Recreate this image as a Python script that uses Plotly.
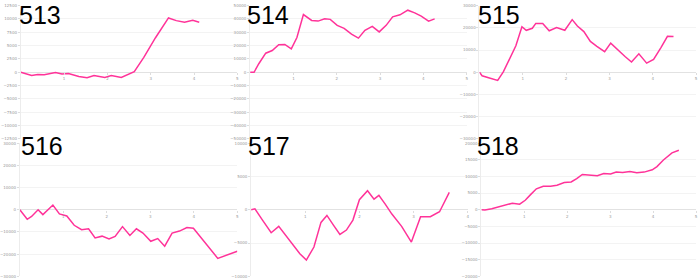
import plotly.graph_objects as go

titles = ["513", "514", "515", "516", "517", "518"]

x513 = [0, 0.25, 0.39, 0.54, 0.80, 0.95, 1.10, 1.34, 1.53, 1.69, 1.94, 2.09, 2.32, 2.62, 2.84, 3.11, 3.41, 3.59, 3.78, 3.97, 4.12]
y513 = [0, -620, -430, -490, -60, -310, -250, -800, -1050, -620, -990, -620, -990, 120, 2780, 6480, 10190, 9690, 9380, 9750, 9380]

x514 = [0, 0.09, 0.20, 0.36, 0.51, 0.66, 0.80, 0.95, 1.08, 1.23, 1.42, 1.57, 1.72, 1.85, 2.01, 2.17, 2.34, 2.50, 2.65, 2.82, 2.98, 3.14, 3.29, 3.46, 3.64, 3.80, 3.95, 4.12, 4.26]
y514 = [0, 0, 6400, 14300, 16300, 20700, 20900, 17500, 26100, 43300, 38900, 38400, 40100, 39700, 35200, 33000, 28600, 25600, 31500, 34500, 30300, 35200, 41600, 43100, 46600, 44600, 42100, 38400, 40100]

x515 = [0, 0.06, 0.21, 0.42, 0.55, 0.69, 0.84, 0.98, 1.08, 1.22, 1.30, 1.46, 1.61, 1.78, 1.97, 2.14, 2.26, 2.41, 2.56, 2.71, 2.89, 3.03, 3.19, 3.36, 3.51, 3.68, 3.86, 4.02, 4.19, 4.34, 4.48]
y515 = [0, -1600, -2500, -3700, 150, 5750, 11900, 20500, 18900, 19800, 22000, 22000, 18700, 20100, 18900, 23700, 20800, 18300, 13900, 11700, 9300, 13100, 10000, 7100, 4600, 8300, 4100, 5800, 11100, 16200, 16100]

x516 = [0, 0.17, 0.27, 0.42, 0.53, 0.76, 0.91, 1.08, 1.25, 1.42, 1.58, 1.73, 1.89, 2.05, 2.19, 2.36, 2.53, 2.68, 2.83, 3.01, 3.17, 3.33, 3.50, 3.67, 3.84, 3.99, 4.55, 4.75, 5.0]
y516 = [0, -4300, -3000, 0, -2200, 2100, -1900, -2800, -7000, -9000, -8600, -12700, -11900, -13200, -12000, -7600, -11600, -8600, -10500, -14200, -13000, -16400, -10500, -9600, -8000, -8300, -21900, -20400, -18700]

x517 = [0, 0.07, 0.21, 0.37, 0.51, 0.72, 0.90, 1.02, 1.16, 1.29, 1.40, 1.52, 1.64, 1.76, 1.88, 2.00, 2.15, 2.27, 2.36, 2.48, 2.60, 2.78, 2.96, 3.13, 3.31, 3.48, 3.66]
y517 = [0, 150, -1550, -3450, -2500, -4750, -6600, -7550, -5600, -1900, -850, -2300, -3700, -3050, -1550, 1500, 2850, 1600, 2150, 800, -650, -2500, -4850, -1050, -1050, -300, 2600]

x518 = [0, 0.08, 0.24, 0.39, 0.56, 0.72, 0.89, 1.02, 1.15, 1.28, 1.44, 1.61, 1.76, 1.93, 2.09, 2.22, 2.35, 2.53, 2.70, 2.85, 3.01, 3.14, 3.29, 3.46, 3.62, 3.79, 3.98, 4.09, 4.24, 4.44, 4.60]
y518 = [0, -100, 290, 790, 1570, 1960, 1670, 2850, 4620, 6290, 7070, 7070, 7370, 8150, 8350, 9330, 10610, 10410, 10220, 10900, 10710, 11300, 11200, 11490, 11100, 11300, 11990, 12970, 14930, 17090, 17880]

xs = [x513, x514, x515, x516, x517, x518]
ys = [y513, y514, y515, y516, y517, y518]

y_limits = [12500, 50000, 30000, 30000, 10000, 20000]
y_steps = [2500, 10000, 10000, 10000, 5000, 5000]
x_limits = [5, 5, 5, 5, 4, 5]

W, H = 700, 280
xdom_px = [(12, 232), (245, 465), (478, 698), (11, 232), (246, 466), (480, 698)]
ydom_px = [(2.7, 138.3)] * 3 + [(142.7, 278.3)] * 3
title_px = [(9, -3), (241, -3), (475, -3), (11, 130), (242, 130), (474, 130)]

LINE = "#ff3399"
fig = go.Figure()
layout = dict(
    width=W, height=H, margin=dict(l=0, r=0, t=0, b=0),
    paper_bgcolor="white", plot_bgcolor="white", showlegend=False,
    annotations=[],
)

for i in range(6):
    sfx = "" if i == 0 else str(i + 1)
    fig.add_trace(go.Scatter(x=xs[i], y=ys[i], mode="lines",
                             line=dict(color=LINE, width=1.5),
                             xaxis="x" + sfx, yaxis="y" + sfx, hoverinfo="skip"))
    x0, x1 = xdom_px[i]
    yt, yb = ydom_px[i]
    ydom = [1 - yb / H, 1 - yt / H]
    zero_pos = (ydom[0] + ydom[1]) / 2
    lim = y_limits[i]
    layout["xaxis" + sfx] = dict(
        domain=[x0 / W, x1 / W], range=[0, x_limits[i]], anchor="free", position=zero_pos,
        tickvals=list(range(1, x_limits[i] + 1)), showgrid=False, zeroline=False, showline=False,
        ticks="outside", ticklen=2, tickcolor="#dddddd",
        tickfont=dict(size=4, color="#999999", family="DejaVu Sans"),
    )
    layout["yaxis" + sfx] = dict(
        domain=ydom, range=[-lim, lim], anchor="x" + sfx, tickmode="linear", tick0=0, dtick=y_steps[i],
        tickformat="d",
        showgrid=True, gridcolor="#f3f3f3", gridwidth=1,
        zeroline=True, zerolinecolor="#e2e2e2", zerolinewidth=1,
        showline=True, linecolor="#ececec", linewidth=1,
        ticks="outside", ticklen=2, tickcolor="#dddddd",
        tickfont=dict(size=4, color="#999999", family="DejaVu Sans"),
    )
    tx, ty = title_px[i]
    layout["annotations"].append(dict(
        text=titles[i], xref="paper", yref="paper", x=tx / W, y=1 - ty / H,
        xanchor="left", yanchor="top", showarrow=False, borderpad=0,
        font=dict(size=25, color="black", family="Liberation Sans"),
    ))

fig.update_layout(**layout)
fig.write_html("out.html")
